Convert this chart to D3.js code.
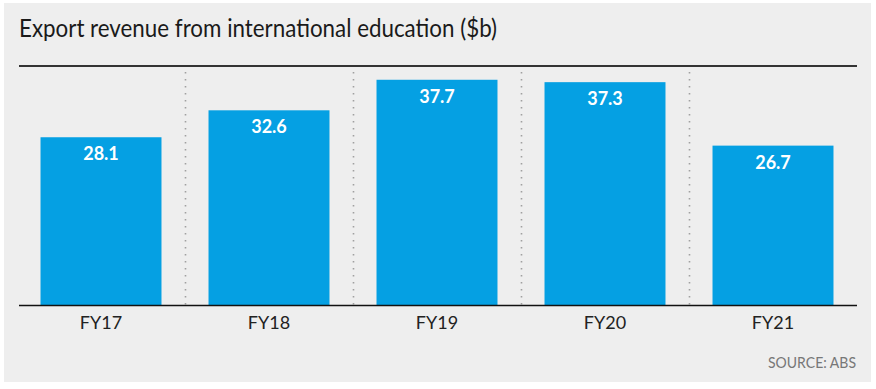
<!DOCTYPE html>
<html>
<head>
<meta charset="utf-8">
<script src="https://cdn.jsdelivr.net/npm/d3@7"></script>
<style>
  body { margin: 0; background: #fff; }
  text { font-family: Lato, "Open Sans", sans-serif; }
</style>
</head>
<body>
<div id="chart"></div>
<script>
// data
var years = ["FY17", "FY18", "FY19", "FY20", "FY21"];
var revenue = [28.1, 32.6, 37.7, 37.3, 26.7];
var titleText = "Export revenue from international education ($b)";
var sourceText = "SOURCE: ABS";

var width = 876, height = 389;

var svg = d3.select("#chart").append("svg")
    .attr("width", width)
    .attr("height", height);

// grey panel
svg.append("rect")
    .attr("x", 4).attr("y", 3)
    .attr("width", 867).attr("height", 379)
    .attr("fill", "#eeeeee");

svg.append("text")
    .attr("x", 19).attr("y", 36.5)
    .attr("font-size", 25)
    .attr("fill", "#1a1a1a")
    .attr("textLength", 478)
    .attr("lengthAdjust", "spacingAndGlyphs")
    .text(titleText);

var xScale = d3.scaleBand().domain(years).range([17, 857]).paddingInner(0.28).paddingOuter(0.14),
    yScale = d3.scaleLinear().domain([0, 40]).range([305.5, 66]);

// band boundaries for the dotted separators
var step = xScale.step();
var x0 = 17;

// top rule
svg.append("line")
    .attr("x1", 19).attr("x2", 857)
    .attr("y1", yScale(40)).attr("y2", yScale(40))
    .attr("stroke", "#333").attr("stroke-width", 2);

svg.selectAll(".sep")
    .data(years.slice(1))
    .enter().append("line")
    .attr("class", "sep")
    .attr("x1", function(d, i) { return x0 + step * (i + 1) + 0.5; })
    .attr("x2", function(d, i) { return x0 + step * (i + 1) + 0.5; })
    .attr("y1", yScale(40) + 6)
    .attr("y2", yScale(0))
    .attr("stroke", "#a0a0a0")
    .attr("stroke-width", 1.6)
    .attr("stroke-dasharray", "1.6,5.4");

svg.selectAll(".bar")
    .data(revenue)
    .enter().append("rect")
    .attr("class", "bar")
    .attr("x", function(d, i) { return xScale(years[i]); })
    .attr("y", function(d) { return yScale(d); })
    .attr("width", xScale.bandwidth())
    .attr("height", function(d) { return yScale(0) - yScale(d); })
    .attr("fill", "#05a0e3");

svg.selectAll(".val")
    .data(revenue)
    .enter().append("text")
    .attr("class", "val")
    .attr("x", function(d, i) { return xScale(years[i]) + xScale.bandwidth() / 2; })
    .attr("y", function(d) { return yScale(d) + 23; })
    .attr("text-anchor", "middle")
    .attr("font-size", 18)
    .attr("font-weight", "bold")
    .attr("fill", "#fff")
    .text(function(d) { return d.toFixed(1); });

// baseline
svg.append("line")
    .attr("x1", 19).attr("x2", 857)
    .attr("y1", yScale(0)).attr("y2", yScale(0))
    .attr("stroke", "#111").attr("stroke-width", 1.6);

svg.selectAll(".cat")
    .data(years)
    .enter().append("text")
    .attr("class", "cat")
    .attr("x", function(d) { return xScale(d) + xScale.bandwidth() / 2; })
    .attr("y", 328.5)
    .attr("text-anchor", "middle")
    .attr("font-size", 18)
    .attr("fill", "#222")
    .text(function(d) { return d; });

svg.append("text")
    .attr("x", 856).attr("y", 368)
    .attr("text-anchor", "end")
    .attr("font-size", 15)
    .attr("fill", "#777")
    .attr("textLength", 88)
    .attr("lengthAdjust", "spacingAndGlyphs")
    .text(sourceText);
</script>
</body>
</html>
